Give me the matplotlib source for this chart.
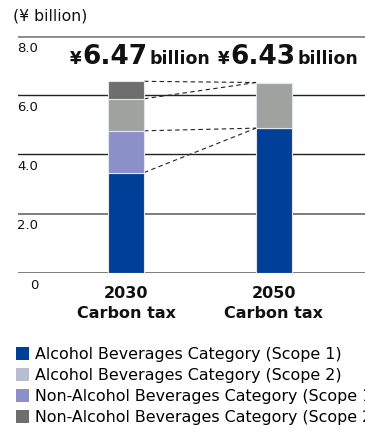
import numpy as np
import matplotlib
matplotlib.use("Agg")
import matplotlib.pyplot as plt
from matplotlib.patches import Patch
from matplotlib.offsetbox import TextArea, HPacker, AnnotationBbox

# data (¥ billion)
scenarios = ["2030\nCarbon tax", "2050\nCarbon tax"]
alc_s1 = [3.39, 4.89]
nonalc_s1 = [1.41, 0.0]
alc_s2 = [1.08, 1.54]
nonalc_s2 = [0.59, 0.0]
totals = ["6.47", "6.43"]
series_names = ["Alcohol Beverages Category (Scope 1)",
                "Alcohol Beverages Category (Scope 2)",
                "Non-Alcohol Beverages Category (Scope 1)",
                "Non-Alcohol Beverages Category (Scope 2)"]
yticks = [0, 2, 4, 6, 8]
ytick_labels = ["0", "2.0", "4.0", "6.0", "8.0"]

c_alc1 = "#003f98"
c_non1 = "#8b90c8"
c_alc2 = "#a0a2a0"
c_alc2_leg = "#b8bdcf"
c_non2 = "#6e6e6e"

fig = plt.figure(figsize=(3.65, 4.32), dpi=100)
ax = fig.add_axes([18/365, 1 - 273/432, 1 - 18/365, (273 - 36)/432])

x = np.arange(len(scenarios))
w = 0.243
stack = [(alc_s1, c_alc1), (nonalc_s1, c_non1), (alc_s2, c_alc2), (nonalc_s2, c_non2)]
bottom = np.zeros(len(x))
tops = []
for vals, col in stack:
    vals = np.array(vals)
    ax.bar(x, vals, w, bottom=bottom, color=col, edgecolor="#e4e6ef", linewidth=0.8, zorder=3)
    bottom = bottom + vals
    tops.append(bottom.copy())

# dashed connectors between cumulative boundaries
for t in tops:
    ax.plot([x[0] + w/2, x[1] - w/2], [t[0], t[1]], color="#222222", lw=0.8,
            ls=(0, (4, 3)), zorder=2)

# gridlines
grid_style = {0: ("#666666", 1.2), 2: ("#666666", 1.2), 4: ("#222222", 1.0),
              6: ("#222222", 1.0), 8: ("#888888", 2.0)}
for v in yticks:
    col, lw = grid_style[v]
    ax.axhline(v, color=col, lw=lw, zorder=1)
    ax.annotate(ytick_labels[v // 2], xy=(0.058, v), xycoords=ax.get_yaxis_transform(),
                xytext=(0, -4), textcoords="offset points", ha="right", va="top",
                fontsize=9.5, color="#111111")

ax.set_xlim(-0.73, 1.615)
ax.set_ylim(0, 8)
ax.set_xticks([])
ax.set_yticks([])
for s in ax.spines.values():
    s.set_visible(False)

for xi, lab in zip(x, scenarios):
    ax.annotate(lab, xy=(xi, 0), xycoords="data", xytext=(0, -9), textcoords="offset points",
                ha="center", va="top", fontsize=11.5, fontweight="bold", linespacing=1.5,
                color="#111111")

# totals
for xi, tot in zip(x, totals):
    parts = [TextArea("¥", textprops=dict(fontsize=12, fontweight="bold", color="#111111")),
             TextArea(tot, textprops=dict(fontsize=19, fontweight="bold", color="#111111")),
             TextArea("billion", textprops=dict(fontsize=12.5, fontweight="bold", color="#111111"))]
    box = HPacker(children=parts, align="baseline", pad=0, sep=1)
    ab = AnnotationBbox(box, (xi, 7.3), xybox=(10, 0), boxcoords="offset points",
                        frameon=False, box_alignment=(0.5, 0.5), annotation_clip=False)
    ax.add_artist(ab)

fig.text(13/365, 1 - 16/432, "(¥ billion)", fontsize=11.3, va="center", ha="left", color="#111111")

handles = [Patch(facecolor=c) for c in [c_alc1, c_alc2_leg, c_non1, c_non2]]
fig.legend(handles, series_names, loc="upper left", bbox_to_anchor=(16/365, 1 - 347/432),
           frameon=False, fontsize=11.4, handlelength=0.82, handleheight=0.82,
           handletextpad=0.4, labelspacing=0.38, borderpad=0, borderaxespad=0)

fig.savefig("out.png", dpi=100)
